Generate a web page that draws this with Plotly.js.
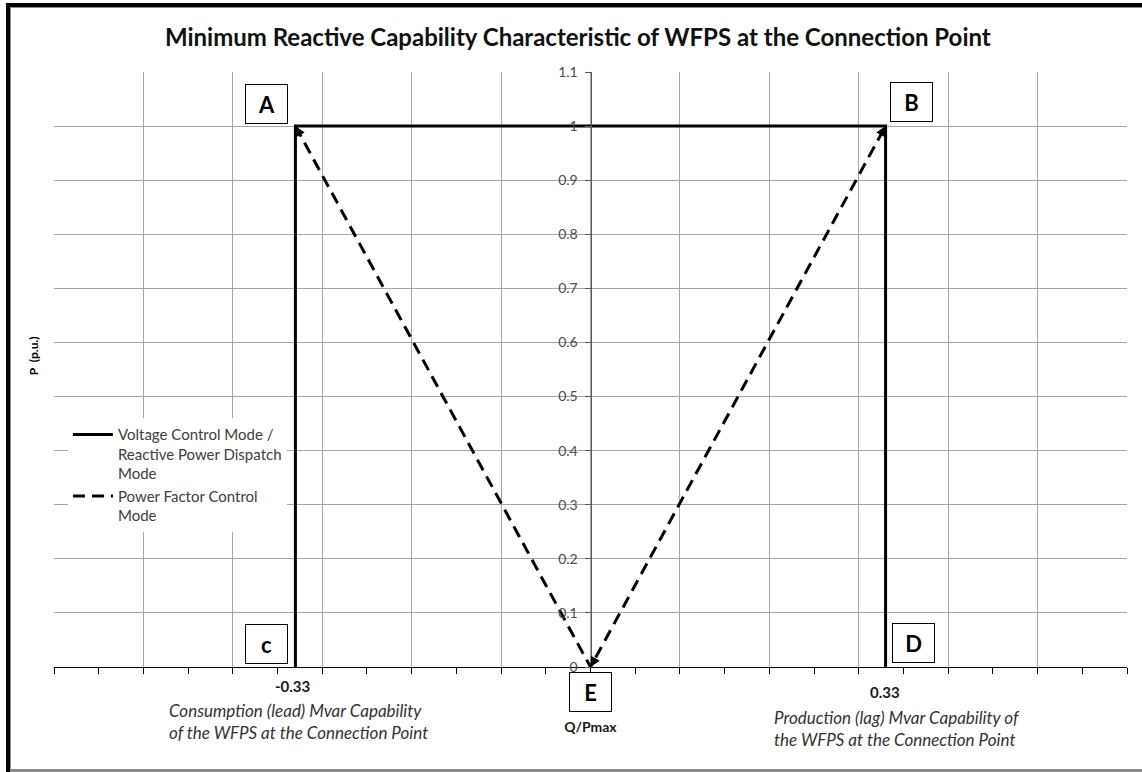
<!DOCTYPE html>
<html>
<head>
<meta charset="utf-8">
<script src="https://cdn.plot.ly/plotly-3.0.1.min.js"></script>
<style>
  html, body { margin: 0; padding: 0; background: #fff; }
  #wrap { position: relative; width: 1142px; height: 772px; overflow: hidden; }
  #chart { position: absolute; left: 0; top: 0; width: 1142px; height: 772px; }
  #frameOuter { position: absolute; left: 6px; top: 3px; width: 1136px; height: 769px;
    box-sizing: border-box; border-top: 4px solid #000; border-left: 4px solid #000; pointer-events: none; }
  #frameInner { position: absolute; left: 10px; top: 7px; width: 1132px; height: 765px;
    box-sizing: border-box; border-top: 1px solid #8a8a8a; border-left: 1px solid #8a8a8a;
    border-bottom: 3px solid #8a8a8a; pointer-events: none; }
</style>
</head>
<body>
<div id="wrap">
  <div id="chart"></div>
  <div id="frameOuter"></div>
  <div id="frameInner"></div>
</div>
<script>
// ---- data ----
const vcModeQ = [-0.33, -0.33, 0.33, 0.33];
const vcModeP = [0, 1, 1, 0];
const pfModeQ = [-0.33, 0, 0.33];
const pfModeP = [1, 0, 1];

const yTickVals = [0, 0.1, 0.2, 0.3, 0.4, 0.5, 0.6, 0.7, 0.8, 0.9, 1, 1.1];
const yTickText = ['0', '0.1', '0.2', '0.3', '0.4', '0.5', '0.6', '0.7', '0.8', '0.9', '1', '1.1'];
const yGridVals = [0.1, 0.2, 0.3, 0.4, 0.5, 0.6, 0.7, 0.8, 0.9, 1];

const qMarkVals = [-0.33, 0.33];
const qMarkText = ['-0.33', '0.33'];

const pointLabels = ['A', 'B', 'c', 'D', 'E'];
const pointQ = [-0.33, 0.33, -0.33, 0.33, 0];
const pointP = [1, 1, 0, 0, 0];

const seriesNames = ['Voltage Control Mode /<br>Reactive Power Dispatch<br>Mode', 'Power Factor Control<br>Mode'];

const captionLead = 'Consumption (lead) Mvar Capability<br>of the WFPS at the Connection Point';
const captionLag = 'Production (lag) Mvar Capability of<br>the WFPS at the Connection Point';

// ---- styling ----
const FONT = 'Lato, "Open Sans", sans-serif';
const labelStyle = [
  {xanchor: 'right', yanchor: 'bottom', xshift: -7, yshift: 2},
  {xanchor: 'left', yanchor: 'bottom', xshift: 4, yshift: 4},
  {xanchor: 'right', yanchor: 'bottom', xshift: -7, yshift: 3},
  {xanchor: 'left', yanchor: 'bottom', xshift: 6, yshift: 4},
  {xanchor: 'center', yanchor: 'top', xshift: 0, yshift: -5}
];

const traces = [
  {
    x: vcModeQ, y: vcModeP, type: 'scatter', mode: 'lines', name: seriesNames[0],
    line: {color: '#000', width: 3}, hoverinfo: 'skip'
  },
  {
    x: pfModeQ, y: pfModeP, type: 'scatter', mode: 'lines', name: seriesNames[1],
    line: {color: '#000', width: 3, dash: '12px,7px'}, hoverinfo: 'skip'
  }
];

const annotations = [];
pointLabels.forEach((t, i) => {
  const s = labelStyle[i];
  annotations.push({
    x: pointQ[i], y: pointP[i], xref: 'x', yref: 'y', text: '<b>' + t + '</b>', showarrow: false,
    xanchor: s.xanchor, yanchor: s.yanchor, xshift: s.xshift, yshift: s.yshift,
    width: 41, height: 38, borderpad: 0, bordercolor: '#000', borderwidth: 1, bgcolor: '#fff',
    font: {family: FONT, size: 22, color: '#000'}
  });
});
// arrowheads at the ends of the dashed lines
const arrowTips = [[pfModeQ[0], pfModeP[0], 5, 9], [pfModeQ[1], pfModeP[1], 5, -9], [pfModeQ[2], pfModeP[2], -5, 9]];
arrowTips.forEach(a => {
  annotations.push({
    x: a[0], y: a[1], xref: 'x', yref: 'y', ax: a[2], ay: a[3], text: '', showarrow: true,
    arrowhead: 2, arrowsize: 1, arrowwidth: 2, arrowcolor: '#000', standoff: 0
  });
});
// bold -0.33 / 0.33 labels below the axis
const qShift = [[-3, -8], [-1, -14]];
qMarkVals.forEach((v, i) => {
  annotations.push({
    x: v, y: 0, xref: 'x', yref: 'y', text: '<b>' + qMarkText[i] + '</b>', showarrow: false,
    xanchor: 'center', yanchor: 'top', xshift: qShift[i][0], yshift: qShift[i][1],
    font: {family: FONT, size: 15, color: '#1a1a1a'}
  });
});
// captions
annotations.push({
  x: 0.105, y: -0.052, xref: 'paper', yref: 'paper', text: '<i>' + captionLead + '</i>', showarrow: false,
  xanchor: 'left', yanchor: 'top', align: 'left', font: {family: FONT, size: 17, color: '#333'}
});
annotations.push({
  x: 0.669, y: -0.064, xref: 'paper', yref: 'paper', text: '<i>' + captionLag + '</i>', showarrow: false,
  xanchor: 'left', yanchor: 'top', align: 'left', font: {family: FONT, size: 17, color: '#333'}
});
// Y title (sits at the far left, away from the centred axis)
annotations.push({
  x: -0.0196, y: 0.524, xref: 'paper', yref: 'paper', text: '<b>P  (p.u.)</b>', showarrow: false,
  textangle: -90, xanchor: 'center', yanchor: 'middle', font: {family: FONT, size: 12, color: '#000'}
});

const layout = {
  width: 1142, height: 772,
  margin: {l: 54, r: 15, t: 72, b: 105},
  paper_bgcolor: '#fff', plot_bgcolor: '#fff',
  font: {family: FONT, color: '#404040'},
  title: {
    text: '<b>Minimum Reactive Capability Characteristic of WFPS at the Connection Point</b>',
    font: {family: FONT, size: 24, color: '#111'},
    xref: 'container', yref: 'container', x: 0.506, y: 0.951, xanchor: 'center', yanchor: 'middle'
  },
  xaxis: {
    range: [-0.6, 0.6], dtick: 0.1, tick0: 0,
    showgrid: true, gridcolor: '#a6a6a6', gridwidth: 1,
    zeroline: false, showline: true, linecolor: '#000', linewidth: 1,
    ticks: 'outside', ticklen: 6, tickcolor: '#000', tickwidth: 1,
    showticklabels: false,
    minor: {dtick: 0.05, tick0: 0, ticks: 'outside', ticklen: 6, tickcolor: '#000', showgrid: false},
    title: {text: '<b>Q/Pmax</b>', font: {family: FONT, size: 14, color: '#1a1a1a'}, standoff: 49},
    automargin: false, fixedrange: true
  },
  yaxis: {
    range: [0, 1.1], anchor: 'free', position: 0.5,
    tickmode: 'array', tickvals: yTickVals, ticktext: yTickText,
    showgrid: false, zeroline: false,
    showline: true, linecolor: '#595959', linewidth: 1,
    ticks: 'outside', ticklen: 6, tickcolor: '#595959', ticklabelstandoff: 4,
    tickfont: {family: FONT, size: 14, color: '#4d4d4d'},
    minor: {tickmode: 'array', tickvals: yGridVals, showgrid: true, gridcolor: '#a6a6a6', gridwidth: 1, ticks: ''},
    automargin: false, fixedrange: true
  },
  showlegend: true,
  legend: {
    x: 0.013, y: 0.418, xanchor: 'left', yanchor: 'top',
    bgcolor: '#fff', borderwidth: 0, valign: 'top', tracegroupgap: 6, itemwidth: 40,
    font: {family: FONT, size: 15, color: '#404040'}
  },
  annotations: annotations
};

Plotly.newPlot('chart', traces, layout, {staticPlot: true, displayModeBar: false});
</script>
</body>
</html>
